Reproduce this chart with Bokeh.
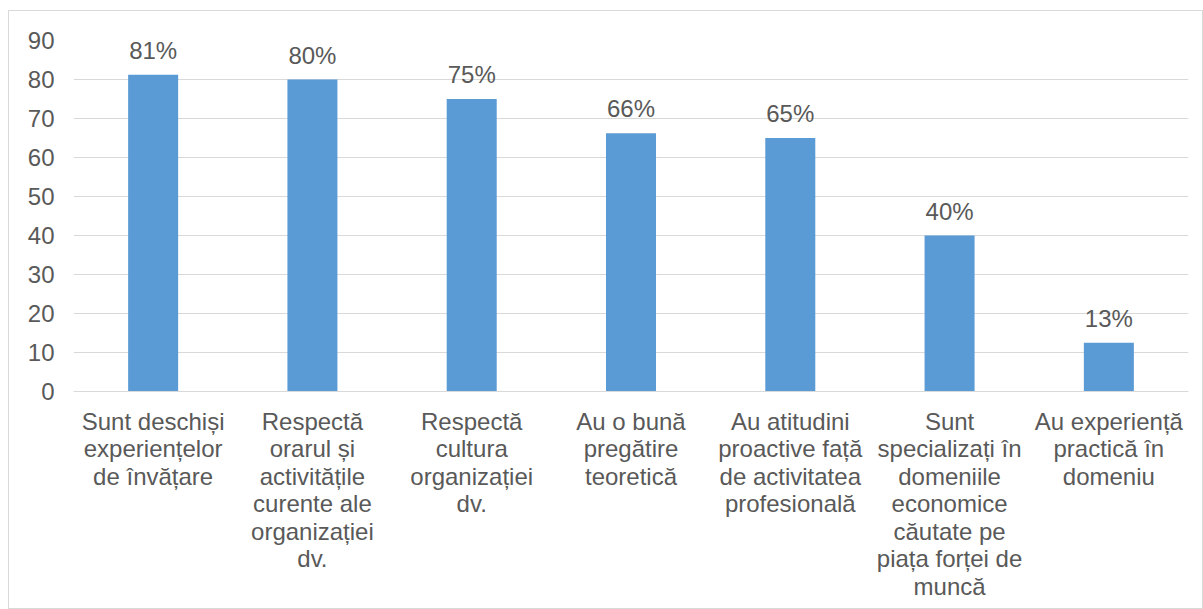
from bokeh.plotting import figure
from bokeh.models import ColumnDataSource, FactorRange, Range1d, FixedTicker
from bokeh.core.properties import value
from bokeh.embed import file_html
from bokeh.resources import INLINE

categories = [
    "Sunt deschiși\nexperiențelor\nde învățare",
    "Respectă\norarul și\nactivitățile\ncurente ale\norganizației\ndv.",
    "Respectă\ncultura\norganizației\ndv.",
    "Au o bună\npregătire\nteoretică",
    "Au atitudini\nproactive față\nde activitatea\nprofesională",
    "Sunt\nspecializați în\ndomeniile\neconomice\ncăutate pe\npiața forței de\nmuncă",
    "Au experiență\npractică în\ndomeniu",
]
values = [81.2, 80.0, 75.0, 66.2, 65.0, 40.0, 12.5]
labels = ["81%", "80%", "75%", "66%", "65%", "40%", "13%"]
y_ticks = [0, 10, 20, 30, 40, 50, 60, 70, 80, 90]

FONT = "Liberation Sans"
TXT = "#595959"
GRID = "#D9D9D9"
BAR = "#5B9BD5"

src = ColumnDataSource(dict(cat=categories, val=values, lab=labels))

p = figure(
    x_range=FactorRange(*categories, range_padding=0),
    y_range=Range1d(0, 90),
    width=1195, height=599,
    output_backend="svg", toolbar_location=None,
    min_border_left=64, min_border_right=16,
    min_border_top=29, min_border_bottom=219,
)
p.margin = (10, 0, 0, 8)
p.styles = {"border": "1px solid #D9D9D9"}
p.outline_line_color = None
p.background_fill_color = "white"
p.border_fill_color = "white"

p.vbar(x="cat", top="val", width=0.314, source=src, color=BAR, line_color=None)
p.text(x="cat", y="val", text="lab", source=src, text_align="center",
       text_baseline="bottom", y_offset=-11, text_font=value(FONT),
       text_font_size="24px", text_color=TXT)

p.xgrid.grid_line_color = None
p.ygrid.grid_line_color = GRID
p.ygrid.grid_line_width = 1
p.yaxis.ticker = FixedTicker(ticks=y_ticks)

p.yaxis.axis_line_color = None
p.yaxis.major_tick_line_color = None
p.yaxis.minor_tick_line_color = None
p.yaxis.major_label_text_font = FONT
p.yaxis.major_label_text_font_size = "24px"
p.yaxis.major_label_text_color = TXT
p.yaxis.major_label_standoff = 13

p.xaxis.axis_line_color = GRID
p.xaxis.axis_line_width = 1
p.xaxis.major_tick_line_color = None
p.xaxis.minor_tick_line_color = None
p.xaxis.major_label_text_font = FONT
p.xaxis.major_label_text_font_size = "24px"
p.xaxis.major_label_text_line_height = 1.02
p.xaxis.major_label_text_color = TXT
p.xaxis.major_label_standoff = 10
p.xaxis.major_label_orientation = "horizontal"

open("out.html", "w").write(file_html(p, INLINE))
